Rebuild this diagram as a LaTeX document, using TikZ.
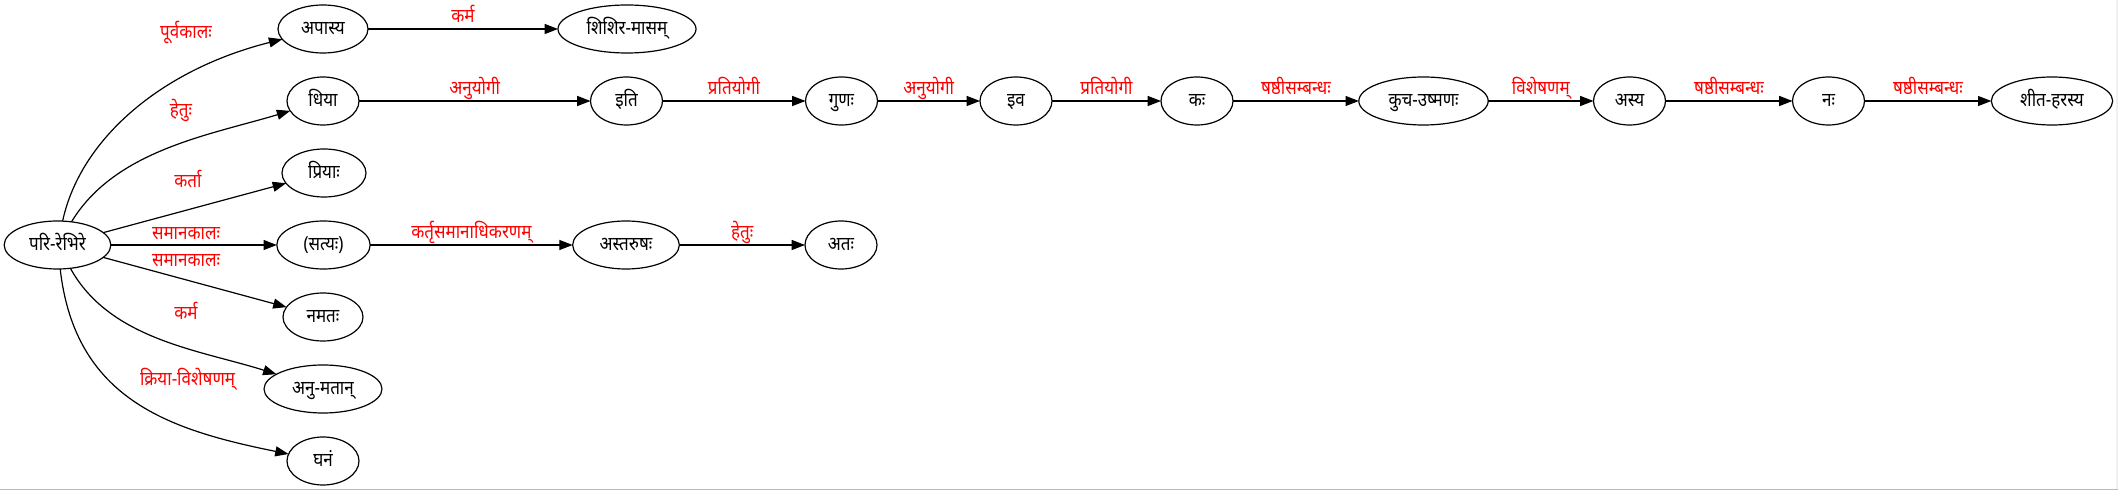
\documentclass[tikz,border=0pt]{standalone}
\usepackage{fontspec}
\newfontfamily\dev[Script=Devanagari, FakeStretch=0.88]{Noto Sans}
\usetikzlibrary{shapes.geometric, arrows.meta}
\newcommand{\zt}[1]{\makebox[0pt]{#1}}
\begin{document}
\begin{tikzpicture}[x=0.75pt, y=-0.75pt,
  nd/.style={draw, ellipse, line width=0.9pt, inner sep=0pt, outer sep=0pt,
    minimum height=36pt, font=\dev\fontsize{14.5}{16}\selectfont,
    text height=8.8pt, text depth=0pt},
  ed/.style={draw, line width=0.9pt, -{Triangle[length=10pt,width=7.5pt]}},
  lbl/.style={text=red, font=\dev\fontsize{14.5}{16}\selectfont, inner sep=0pt, anchor=base},
  clbl/.style={lbl, midway, yshift=4.5pt},
]
\useasboundingbox (0,0) rectangle (2118,491);
\fill[white] (0,0) rectangle (2118,491);
\draw[gray!55, line width=1.2pt] (0,489.5) -- (2118,489.5);
\draw[gray!12, line width=1pt] (2117,0) -- (2117,489);

\node[nd, minimum width=80pt]   (root)  at (57.5,245) {\zt{परि-रेभिरे}};
\node[nd, minimum width=67.5pt] (apasya) at (323,29) {\zt{अपास्य}};
\node[nd, minimum width=103.5pt](shishira) at (627,29) {\zt{शिशिर-मासम्}};
\node[nd, minimum width=54pt]   (dhiya) at (323,101) {\zt{धिया}};
\node[nd, minimum width=54pt]   (iti)   at (626.5,101) {\zt{इति}};
\node[nd, minimum width=54pt]   (guna)  at (841.5,101) {\zt{गुणः}};
\node[nd, minimum width=54pt]   (iva)   at (1016,101) {\zt{इव}};
\node[nd, minimum width=54pt]   (kah)   at (1197,101) {\zt{कः}};
\node[nd, minimum width=97pt]   (kuca)  at (1423.5,101) {\zt{कुच-उष्मणः}};
\node[nd, minimum width=54pt]   (asya)  at (1629.5,101) {\zt{अस्य}};
\node[nd, minimum width=54pt]   (nah)   at (1828.5,101) {\zt{नः}};
\node[nd, minimum width=91pt]   (shita) at (2052,101) {\zt{शीत-हरस्य}};
\node[nd, minimum width=63pt]   (priya) at (324,173) {\zt{प्रियाः}};
\node[nd, minimum width=70pt]   (satya) at (323.5,245) {\zt{(सत्यः)}};
\node[nd, minimum width=80pt]   (astarusha) at (626,245) {\zt{अस्तरुषः}};
\node[nd, minimum width=54pt]   (atah)  at (841,245) {\zt{अतः}};
\node[nd, minimum width=60pt]   (namatah) at (323,317) {\zt{नमतः}};
\node[nd, minimum width=88.5pt] (anumatan) at (323,389) {\zt{अनु-मतान्}};
\node[nd, minimum width=54pt]   (ghanam) at (323,461) {\zt{घनं}};

% edges from root
\draw[ed] (root) .. controls (80,140) and (160,70) .. (apasya);
\draw[ed] (root) .. controls (115,150) and (210,135) .. (dhiya);
\draw[ed] (root) -- (priya);
\draw[ed] (root) -- (satya);
\draw[ed] (root) -- (namatah);
\draw[ed] (root) .. controls (110,340) and (200,350) .. (anumatan);
\draw[ed] (root) .. controls (75,400) and (170,430) .. (ghanam);

\node[lbl] (l1) at (186,39) {पूर्वकालः};
\node[lbl] (l2) at (181,117) {हेतुः};
\node[lbl] (l3) at (188,188) {कर्ता};
\node[lbl] (l4) at (186,240) {समानकालः};
\node[lbl] (l5) at (186,267) {समानकालः};
\node[lbl] (l6) at (186,320) {कर्म};
\node[lbl] (l7) at (187.5,386) {क्रिया-विशेषणम्};

% chains
\draw[ed] (apasya) -- node[clbl] {कर्म} (shishira);
\draw[ed] (dhiya) -- node[clbl] {अनुयोगी} (iti);
\draw[ed] (iti) -- node[clbl] {प्रतियोगी} (guna);
\draw[ed] (guna) -- node[clbl] {अनुयोगी} (iva);
\draw[ed] (iva) -- node[clbl] {प्रतियोगी} (kah);
\draw[ed] (kah) -- node[clbl] {षष्ठीसम्बन्धः} (kuca);
\draw[ed] (kuca) -- node[clbl] {विशेषणम्} (asya);
\draw[ed] (asya) -- node[clbl] {षष्ठीसम्बन्धः} (nah);
\draw[ed] (nah) -- node[clbl] {षष्ठीसम्बन्धः} (shita);
\draw[ed] (satya) -- node[clbl] {कर्तृसमानाधिकरणम्} (astarusha);
\draw[ed] (astarusha) -- node[clbl] {हेतुः} (atah);
\end{tikzpicture}
\end{document}
